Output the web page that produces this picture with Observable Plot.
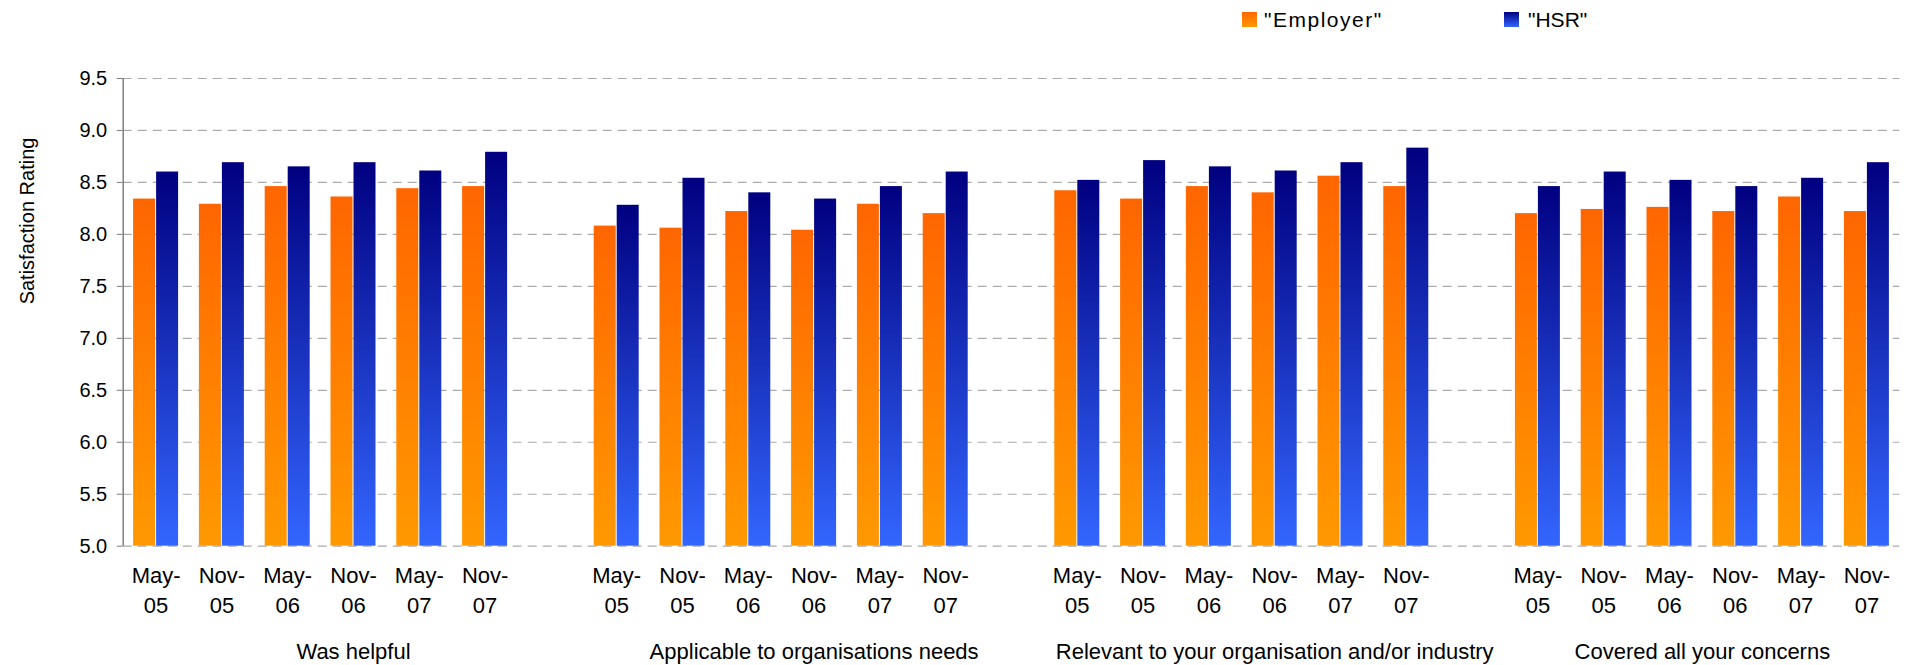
<!DOCTYPE html>
<html>
<head>
<meta charset="utf-8">
<script src="https://cdn.jsdelivr.net/npm/d3@7"></script>
<script src="https://cdn.jsdelivr.net/npm/@observablehq/plot@0.6"></script>
<style>
  html, body { margin: 0; padding: 0; background: #fff; }
  body { width: 1909px; height: 665px; overflow: hidden; font-family: "Liberation Sans", Arial, sans-serif; }
  #legend { position: relative; height: 36px; width: 1909px; }
  .sw { position: absolute; top: 12px; width: 15px; height: 15px; }
  .lt { position: absolute; top: 9px; font-size: 21px; line-height: 21px; color: #000; white-space: nowrap; }
  #chart svg { display: block; font-family: "Liberation Sans", Arial, sans-serif; color: #000; }
</style>
</head>
<body>
<div id="legend">
  <div class="sw" style="left:1242px;background:linear-gradient(#ff6600,#ff9900);"></div>
  <div class="lt" style="left:1264px;letter-spacing:1.5px;">"Employer"</div>
  <div class="sw" style="left:1504px;background:linear-gradient(#000080,#3366ff);"></div>
  <div class="lt" style="left:1528px;">"HSR"</div>
</div>
<div id="chart"></div>
<script>
const groups = [
  "Was helpful",
  "Applicable to organisations needs",
  "Relevant to your organisation and/or industry",
  "Covered all your concerns"
];
const periods = ["May-05", "Nov-05", "May-06", "Nov-06", "May-07", "Nov-07"];
const employer = [
  8.34, 8.29, 8.46, 8.36, 8.44, 8.46,
  8.08, 8.06, 8.22, 8.04, 8.29, 8.20,
  8.42, 8.34, 8.46, 8.40, 8.56, 8.46,
  8.20, 8.24, 8.26, 8.22, 8.36, 8.22
];
const hsr = [
  8.60, 8.69, 8.65, 8.69, 8.61, 8.79,
  8.28, 8.54, 8.40, 8.34, 8.46, 8.60,
  8.52, 8.71, 8.65, 8.61, 8.69, 8.83,
  8.46, 8.60, 8.52, 8.46, 8.54, 8.69
];
const yTicks = [5.0, 5.5, 6.0, 6.5, 7.0, 7.5, 8.0, 8.5, 9.0, 9.5];
const yTitle = "Satisfaction Rating";

// build table and slot domain (one blank slot after each group except the last)
const rows = [];
const slots = [];
groups.forEach((g, i) => {
  periods.forEach((p, j) => {
    const k = i * periods.length + j;
    const key = `${i}-${j}`;
    rows.push({slot: key, group: g, period: p, employer: employer[k], hsr: hsr[k]});
    slots.push(key);
  });
  if (i < groups.length - 1) slots.push(`${i}-gap`);
});
const periodOf = new Map(rows.map(d => [d.slot, d.period]));

const W = 1909, H = 629;
const mL = 122.7, mR = 9.7, mT = 42, mB = 119.3;
const step = (W - mL - mR) / slots.length;
const padOut = 10.4;
const half = (step - 2 * padOut) / 2;

const groupLabels = groups.slice(0, 3).map((g, i) => ({key: `${i}-3`, text: g}));
const lastGroupLabel = [{key: `${groups.length - 1}-3`, text: groups[groups.length - 1]}];

const svg = Plot.plot({
  width: W,
  height: H,
  marginLeft: mL,
  marginRight: mR,
  marginTop: mT,
  marginBottom: mB,
  style: {fontFamily: "Liberation Sans, Arial, sans-serif", color: "#000", background: "#fff", overflow: "visible"},
  x: {type: "band", domain: slots, padding: 0, round: false, axis: null},
  y: {domain: [5, 9.5], axis: null},
  marks: [
    Plot.gridY(yTicks, {stroke: "#ababab", strokeOpacity: 1, strokeWidth: 1.2, strokeDasharray: "9,6"}),
    Plot.barY(rows, {x: "slot", y1: 5, y2: "employer", fill: "url(#gEmp)", insetLeft: padOut, insetRight: padOut + half + 0.5}),
    Plot.barY(rows, {x: "slot", y1: 5, y2: "hsr", fill: "url(#gHsr)", insetLeft: padOut + half + 0.5, insetRight: padOut}),
    Plot.ruleX([slots[0]], {x: d => d, y1: 5, y2: 9.5, dx: -step / 2, stroke: "#7f7f7f", strokeWidth: 1.5}),
    Plot.axisY({ticks: yTicks, tickFormat: d3.format(".1f"), tickSize: 6, tickPadding: 10, fontSize: 20, stroke: "#7f7f7f", fill: "#000", label: null}),
    Plot.axisX({
      tickSize: 0, tickPadding: 15.4, fontSize: 22, lineHeight: 1.36, fill: "#000", label: null,
      tickFormat: k => periodOf.has(k) ? periodOf.get(k).replace("-", "-\n") : ""
    }),
    Plot.text(groupLabels, {x: "key", text: "text", frameAnchor: "bottom", dy: 97, lineAnchor: "top", fontSize: 22, fill: "#000"}),
    Plot.text(lastGroupLabel, {x: "key", text: "text", frameAnchor: "bottom", dy: 97, dx: -step / 2, lineAnchor: "top", fontSize: 22, fill: "#000"}),
    Plot.text([yTitle], {text: d => d, frameAnchor: "left", rotate: -90, dx: 33 - mL, dy: -8, lineAnchor: "bottom", fontSize: 20, fill: "#000"})
  ]
});

const defs = d3.select(svg).insert("defs", ":first-child");
function grad(id, top, bottom) {
  const lg = defs.append("linearGradient").attr("id", id)
    .attr("x1", 0).attr("y1", 0).attr("x2", 0).attr("y2", 1);
  lg.append("stop").attr("offset", "0%").attr("stop-color", top);
  lg.append("stop").attr("offset", "100%").attr("stop-color", bottom);
}
grad("gEmp", "#ff6600", "#ff9900");
grad("gHsr", "#000080", "#3366ff");

document.getElementById("chart").appendChild(svg);
</script>
</body>
</html>
